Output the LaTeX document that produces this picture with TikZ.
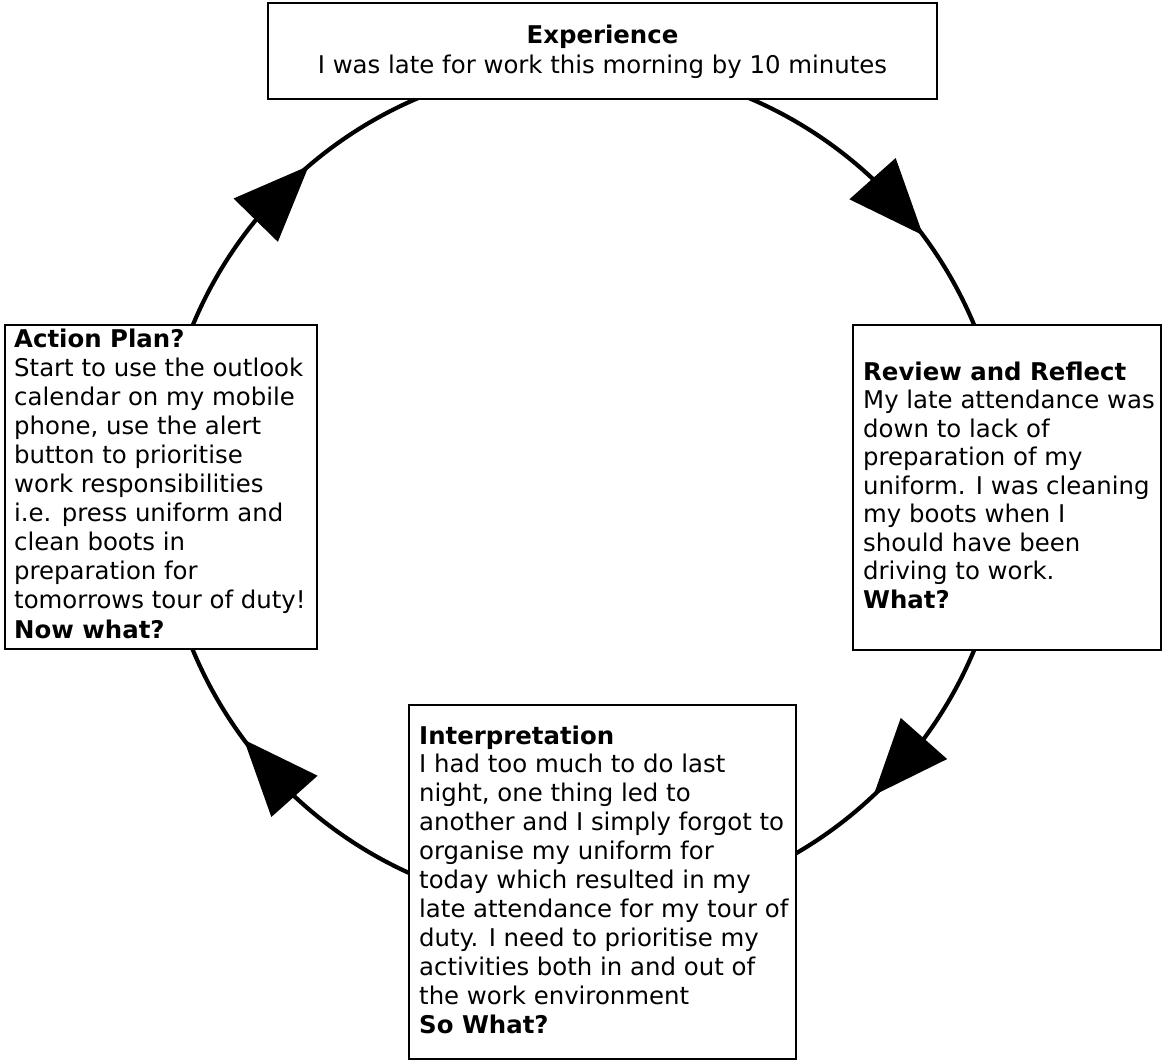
\documentclass[tikz,border=0pt]{standalone}
\usepackage{fontspec}
\setmainfont{DejaVu Sans}
\usetikzlibrary{calc,backgrounds}
\begin{document}
\begin{tikzpicture}[x=1pt,y=1pt,
  stage/.style={draw=black, line width=2.8pt, fill=white, rectangle, inner sep=0pt},
  body/.style={inner sep=0pt, anchor=base west, align=left},
  ring/.style={line width=4.2pt},
  head/.style={fill=black}]
\useasboundingbox (0,0) rectangle (1163,-1063);
\def\R{423pt}
% centre of the cycle
\coordinate (c) at (583.5,-487.5);

% the four stage boxes
\node[stage, minimum width=669pt, minimum height=96pt] (exp) at (602.5,-51) {};
\node[stage, minimum width=308pt, minimum height=325pt] (rev) at (1007,-487.5) {};
\node[stage, minimum width=387pt, minimum height=354pt] (int) at (602.5,-882) {};
\node[stage, minimum width=312pt, minimum height=324pt] (act) at (161,-487) {};

% texts (anchored on the baseline of their last line)
\node[inner sep=0pt, anchor=base, align=center, font=\fontsize{24.4pt}{30pt}\selectfont] (exp-t) at (602.5,-73)
  {\textbf{Experience}\\I was late for work this morning by 10 minutes};

\node[body, font=\fontsize{24.4pt}{28.5pt}\selectfont] (rev-t) at (863,-608)
  {\textbf{Review and Reflect}\\
   My late attendance was\\
   down to lack of\\
   preparation of my\\
   uniform. I was cleaning\\
   my boots when I\\
   should have been\\
   driving to work.\\
   \textbf{What?}};

\node[body, font=\fontsize{24.4pt}{28.9pt}\selectfont] (int-t) at (419,-1033)
  {\textbf{Interpretation}\\
   I had too much to do last\\
   night, one thing led to\\
   another and I simply forgot to\\
   organise my uniform for\\
   today which resulted in my\\
   late attendance for my tour of\\
   duty. I need to prioritise my\\
   activities both in and out of\\
   the work environment\\
   \textbf{So What?}};

\node[body, font=\fontsize{24.4pt}{29.1pt}\selectfont] (act-t) at (14,-638)
  {\textbf{Action Plan?}\\
   Start to use the outlook\\
   calendar on my mobile\\
   phone, use the alert\\
   button to prioritise\\
   work responsibilities\\
   i.e. press uniform and\\
   clean boots in\\
   preparation for\\
   tomorrows tour of duty!\\
   \textbf{Now what?}};

% points of the cycle that sit under each box
\coordinate (p-exp) at ($(c)+(90:\R)$);
\coordinate (p-rev) at ($(c)+(0:\R)$);
\coordinate (p-int) at ($(c)+(-90:\R)$);
\coordinate (p-act) at ($(c)+(180:\R)$);

% arcs joining the stages, behind the boxes
\begin{scope}[on background layer]
  \draw[ring] (p-exp) arc[start angle=90,  end angle=0,    radius=\R];
  \draw[ring] (p-rev) arc[start angle=0,   end angle=-90,  radius=\R];
  \draw[ring] (p-int) arc[start angle=-90, end angle=-180, radius=\R];
  \draw[ring] (p-act) arc[start angle=180, end angle=90,   radius=\R];
\end{scope}

% large triangular heads, clockwise
\foreach \t/\n in {36.6/h1,-46.7/h2,216.6/h3,130.5/h4} {
  \coordinate (\n-tip) at ($(c)+(\t:\R)$);
  \coordinate (\n-base) at ($(c)+({\t+10.3}:\R)$);
  \fill[head] ($(\n-base)!31pt!90:(\n-tip)$) -- (\n-tip) -- ($(\n-base)!31pt!-90:(\n-tip)$) -- cycle;
}
\end{tikzpicture}
\end{document}
